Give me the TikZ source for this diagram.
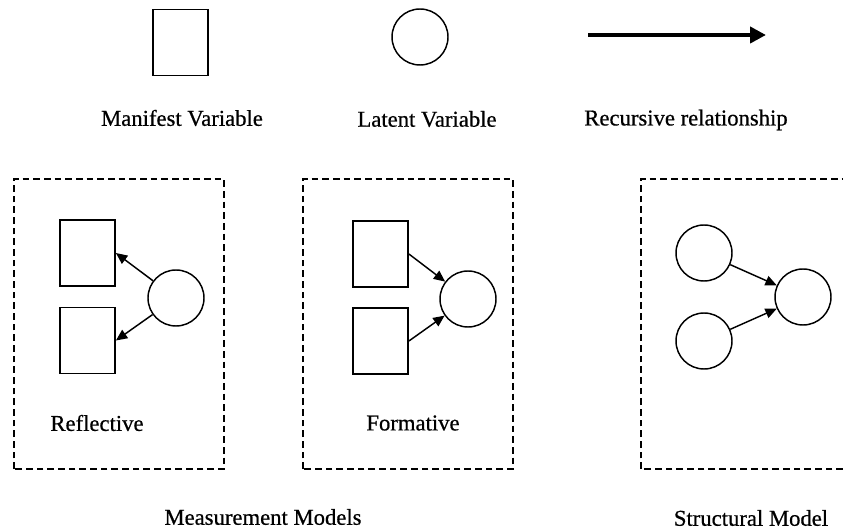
\documentclass[tikz,border=0pt]{standalone}
\usepackage{fontspec}
\setmainfont{Liberation Serif}
\newfontfamily\capfont{Liberation Serif}[FakeBold=0.6]
\usetikzlibrary{arrows.meta}

\tikzset{
    manifest/.style={draw, line width=1.1pt, rectangle, inner sep=0pt,
        minimum width=41.5pt, minimum height=49.5pt},
    latent/.style={draw, line width=1.1pt, circle, inner sep=0pt, minimum size=42pt},
    modelbox/.style={draw, line width=1.1pt, dash pattern=on 5pt off 3pt},
    path/.style={line width=1.1pt, -{Triangle[length=8.5pt,width=7.5pt]}},
    caption/.style={font=\capfont\fontsize{17}{20}\selectfont, inner sep=0pt}
}

\begin{document}
\begin{tikzpicture}[x=0.75pt, y=0.75pt]
    % --- Page (843 x 529 px) ---
    \useasboundingbox (0,0) rectangle (843,529);

    % --- Legend ---
    \node[manifest] (mvKey) at (180.5,486.5) {};
    \node[latent]   (lvKey) at (420,492) {};
    \coordinate (arrStart) at (588,494);
    \coordinate (arrEnd)   at (766,494);
    \draw[line width=3.4pt, -{Triangle[length=12pt,width=12pt]}] (arrStart) -- (arrEnd);

    \node[caption] (mvText)  at (182,411) {Manifest Variable};
    \node[caption] (lvText)  at (427,410) {Latent Variable};
    \node[caption] (arrText) at (686,409) {Recursive relationship};

    % --- Reflective measurement model ---
    \draw[modelbox] (14,60) rectangle (224,350);
    \node[manifest] (mvR1) at (87.5,276) {};
    \node[manifest] (mvR2) at (87.5,188.5) {};
    \node[latent]   (lvR)  at (176,231) {};
    \draw[path] (lvR) -- (mvR1.east);
    \draw[path] (lvR) -- (mvR2.east);
    \node[caption] (reflText) at (97,106) {Reflective};

    % --- Formative measurement model ---
    \draw[modelbox] (303,60) rectangle (513,350);
    \node[manifest] (mvF1) at (380.5,275) {};
    \node[manifest] (mvF2) at (380.5,188) {};
    \node[latent]   (lvF)  at (468,230) {};
    \draw[path] (mvF1.east) -- (lvF);
    \draw[path] (mvF2.east) -- (lvF);
    \node[caption] (formText) at (413,106) {Formative};

    % --- Structural model (box runs past the right edge) ---
    \draw[modelbox] (641,60) rectangle (900,350);
    \node[latent] (lvS1) at (704,276) {};
    \node[latent] (lvS2) at (704,188) {};
    \node[latent] (lvS3) at (803,232) {};
    \draw[path] (lvS1) -- (lvS3);
    \draw[path] (lvS2) -- (lvS3);

    % --- Bottom captions ---
    \node[caption] (measText) at (263,12) {Measurement Models};
    \node[caption] (structText) at (751,11) {Structural Model};

\end{tikzpicture}
\end{document}
